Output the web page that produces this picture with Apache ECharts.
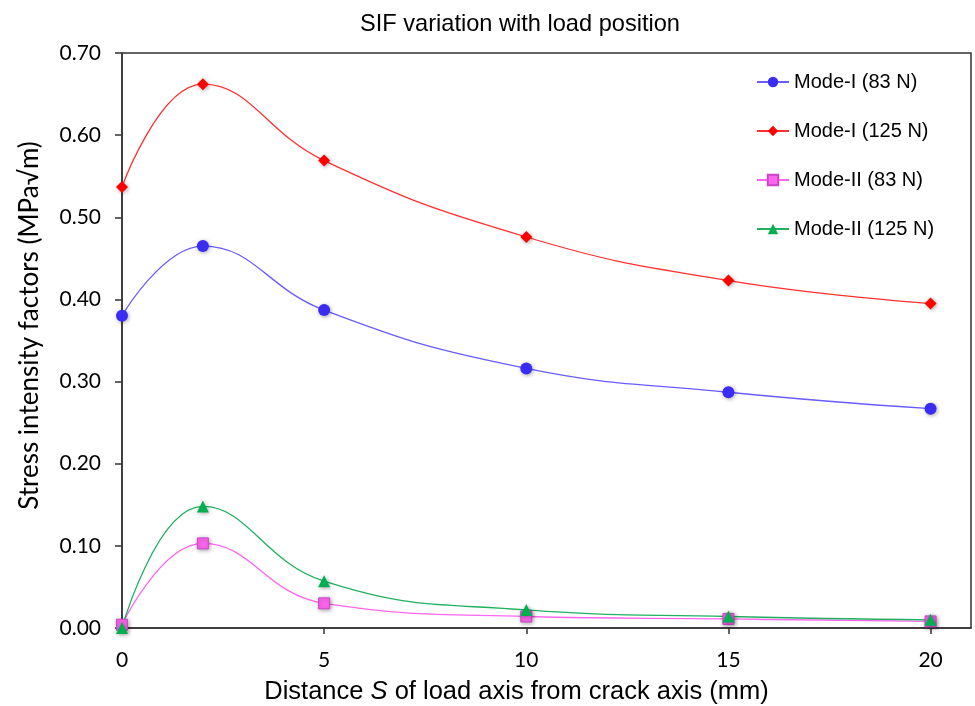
<!DOCTYPE html>
<html>
<head>
<meta charset="utf-8">
<script src="https://cdn.jsdelivr.net/npm/echarts@6/dist/echarts.min.js"></script>
<style>
  html, body { margin: 0; padding: 0; background: #fff; }
  #chart { width: 975px; height: 706px; }
</style>
</head>
<body>
<div id="chart"></div>
<script>
// Load position S (mm)
const distances = [0, 2, 5, 10, 15, 20];
const xTicks = [0, 5, 10, 15, 20];

// Stress intensity factors (MPa√m)
const modeI83 = [0.380, 0.465, 0.387, 0.316, 0.287, 0.267];
const modeI125 = [0.537, 0.662, 0.569, 0.476, 0.423, 0.395];
const modeII83 = [0.004, 0.103, 0.030, 0.014, 0.011, 0.008];
const modeII125 = [0.000, 0.148, 0.057, 0.022, 0.014, 0.010];

const seriesNames = ['Mode-I (83 N)', 'Mode-I (125 N)', 'Mode-II (83 N)', 'Mode-II (125 N)'];

const pairs = vals => distances.map((d, i) => [d, vals[i]]);

const shadow = { shadowBlur: 4, shadowColor: 'rgba(0,0,0,0.35)', shadowOffsetX: 1, shadowOffsetY: 1 };

function lineSeries(name, vals, lineColor, markColor, symbol, size, borderColor) {
  return {
    name: name,
    type: 'line',
    data: pairs(vals),
    smooth: 0.45,
    symbol: symbol,
    symbolSize: size,
    showSymbol: true,
    lineStyle: { color: lineColor, width: 1.3 },
    itemStyle: Object.assign({ color: markColor, borderColor: borderColor || markColor, borderWidth: borderColor ? 1 : 0 }, shadow),
    emphasis: { disabled: true },
    z: 3
  };
}

const chart = echarts.init(document.getElementById('chart'), null, { renderer: 'canvas' });

chart.setOption({
  animation: false,
  backgroundColor: '#fff',
  title: {
    text: 'SIF variation with load position',
    left: 355,
    top: 7,
    textStyle: { fontFamily: 'Liberation Sans', fontSize: 23.6, fontWeight: 'normal', color: '#000' }
  },
  legend: {
    orient: 'vertical',
    left: 751,
    top: 67,
    itemGap: 29,
    itemWidth: 32,
    itemHeight: 13,
    textStyle: { fontFamily: 'Liberation Sans', fontSize: 20, color: '#000' },
    data: seriesNames
  },
  grid: {
    left: 122,
    right: 4,
    top: 53,
    bottom: 78,
    outerBoundsMode: 'none',
    show: true,
    borderColor: '#333',
    borderWidth: 1.5,
    backgroundColor: '#fff'
  },
  xAxis: {
    type: 'value',
    min: 0,
    max: 21,
    interval: 5,
    name: '{n|Distance }{i|S}{n| of load axis from crack axis (mm)}',
    nameLocation: 'middle',
    nameGap: 51,
    nameTextStyle: {
      padding: [0, 60, 0, 0],
      rich: {
        n: { fontFamily: 'Liberation Sans', fontSize: 25.5, color: '#000' },
        i: { fontFamily: 'Liberation Sans', fontSize: 25.5, fontStyle: 'italic', color: '#000' }
      }
    },
    splitLine: { show: false },
    axisLine: { show: true, onZero: false, lineStyle: { color: '#333', width: 1.5 } },
    axisTick: { show: true, inside: false, length: 6, lineStyle: { color: '#333', width: 1.5 }, customValues: xTicks },
    axisLabel: { customValues: xTicks, fontFamily: 'Lato', fontSize: 21, color: '#000', margin: 22 }
  },
  yAxis: {
    type: 'value',
    min: 0,
    max: 0.7,
    interval: 0.1,
    name: 'Stress intensity factors (MPa√m)',
    nameLocation: 'middle',
    nameGap: 79,
    nameTextStyle: { fontFamily: 'Lato', fontSize: 26, color: '#000', padding: [0, 0, 0, 30] },
    splitLine: { show: false },
    axisLine: { show: true, lineStyle: { color: '#333', width: 1.5 } },
    axisTick: { show: true, inside: false, length: 7, lineStyle: { color: '#333', width: 1.5 } },
    axisLabel: { fontFamily: 'Lato', fontSize: 21, color: '#000', margin: 21, formatter: v => v.toFixed(2) }
  },
  series: [
    lineSeries(seriesNames[0], modeI83, '#6a5cff', '#3a2cf2', 'circle', 12),
    lineSeries(seriesNames[1], modeI125, '#ff3030', '#ff0000', 'diamond', 12),
    lineSeries(seriesNames[2], modeII83, '#ff66ee', '#ff66ee', 'rect', 11, '#cc44cc'),
    lineSeries(seriesNames[3], modeII125, '#20b060', '#00b050', 'triangle', 12)
  ]
});
</script>
</body>
</html>
